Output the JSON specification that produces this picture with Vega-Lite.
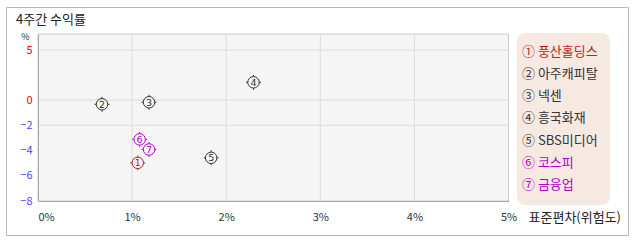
{
  "$schema": "https://vega.github.io/schema/vega-lite/v6.json",
  "width": 622,
  "height": 228,
  "autosize": "none",
  "padding": {"left": 6, "top": 7, "right": 10, "bottom": 7},
  "background": "white",
  "title": {
    "text": "4주간 수익률",
    "anchor": "start",
    "frame": "group",
    "font": "Noto Sans CJK KR",
    "fontSize": 13,
    "fontWeight": "normal",
    "color": "#222222",
    "baseline": "middle",
    "dx": 10,
    "dy": 26,
    "offset": 0
  },
  "datasets": {
    "frame": [{"x0": 0, "x1": 5, "y0": -8, "y1": 6.6}],
    "vgrid": [{"v": 1}, {"v": 2}, {"v": 3}, {"v": 4}],
    "hgrid": [{"v": 5}, {"v": 0}, {"v": -2}],
    "pts": [
      {"n": "1", "label": "① 풍산홀딩스", "sd": 1.06, "ret": -4.98},
      {"n": "2", "label": "② 아주캐피탈", "sd": 0.68, "ret": -0.34},
      {"n": "3", "label": "③ 넥센", "sd": 1.18, "ret": -0.18},
      {"n": "4", "label": "④ 흥국화재", "sd": 2.29, "ret": 1.77},
      {"n": "5", "label": "⑤ SBS미디어", "sd": 1.84, "ret": -4.58},
      {"n": "6", "label": "⑥ 코스피", "sd": 1.08, "ret": -3.12},
      {"n": "7", "label": "⑦ 금융업", "sd": 1.18, "ret": -3.92}
    ]
  },
  "layer": [
    {
      "data": {"name": "frame"},
      "mark": {"type": "rect", "fill": "#f5f5f5", "stroke": "#cccccc", "strokeWidth": 1},
      "encoding": {
        "x": {"field": "x0", "type": "quantitative", "scale": {"domain": [0, 5], "range": [32, 502.5], "nice": false, "zero": false},
          "axis": {
            "values": [0, 1, 2, 3, 4, 5],
            "labelExpr": "datum.value + '%'",
            "orient": "bottom",
            "offset": -34,
            "zindex": 1,
            "grid": false,
            "ticks": false,
            "domain": true,
            "domainColor": "#a8a8a8",
            "labelFont": "Noto Sans CJK KR",
            "labelFontSize": 11,
            "labelColor": "#333333",
            "labelPadding": 10,
            "labelAlign": {"condition": {"test": "datum.value == 0", "value": "left"}, "value": "center"},
            "labelFlush": false,
            "labelOverlap": false,
            "title": "표준편차(위험도)",
            "titleFont": "Noto Sans CJK KR",
            "titleFontSize": 13,
            "titleFontWeight": "normal",
            "titleColor": "#222222",
            "titleX": 522,
            "titleY": 16,
            "titleAlign": "left",
            "titleBaseline": "middle",
            "titleAnchor": null
          }
        },
        "x2": {"field": "x1"},
        "y": {"field": "y0", "type": "quantitative", "scale": {"domain": [-8, 0, 6.6], "range": [194, 93, 27], "nice": false, "zero": false},
          "axis": {
            "values": [5, 0, -2, -4, -6, -8],
            "orient": "left",
            "offset": -32,
            "zindex": 1,
            "grid": false,
            "ticks": false,
            "domain": true,
            "domainColor": "#a8a8a8",
            "labelFont": "Noto Sans CJK KR",
            "labelFontSize": 11,
            "labelPadding": 6,
            "labelColor": {"condition": {"test": "datum.value >= 0", "value": "#ff0000"}, "value": "#4646ff"},
            "labelOverlap": false,
            "title": "%",
            "titleFont": "Noto Sans CJK KR",
            "titleFontSize": 9,
            "titleFontWeight": "normal",
            "titleColor": "#222222",
            "titleAngle": 0,
            "titleX": -13,
            "titleY": 29.5,
            "titleAlign": "center",
            "titleBaseline": "middle",
            "titleAnchor": null
          }
        },
        "y2": {"field": "y1"}
      }
    },
    {
      "data": {"name": "vgrid"},
      "mark": {"type": "rule", "color": "#dcdcdc", "strokeWidth": 1},
      "encoding": {
        "x": {"field": "v", "type": "quantitative"},
        "y": {"datum": -8, "type": "quantitative"},
        "y2": {"datum": 6.6}
      }
    },
    {
      "data": {"name": "hgrid"},
      "mark": {"type": "rule", "color": "#dcdcdc", "strokeWidth": 1},
      "encoding": {
        "y": {"field": "v", "type": "quantitative"},
        "x": {"datum": 0, "type": "quantitative"},
        "x2": {"datum": 5}
      }
    },
    {
      "data": {"name": "pts"},
      "mark": {"type": "point", "filled": false, "strokeWidth": 1, "opacity": 1, "size": 132,
        "shape": "M1,0A1,1,0,1,1,-1,0A1,1,0,1,1,1,0M0,-1L0,-1.3M0,1L0,1.3M-1,0L-1.3,0M1,0L1.3,0"},
      "encoding": {
        "x": {"field": "sd", "type": "quantitative"},
        "y": {"field": "ret", "type": "quantitative"},
        "color": {"field": "label", "type": "nominal",
          "scale": {
            "domain": ["① 풍산홀딩스", "② 아주캐피탈", "③ 넥센", "④ 흥국화재", "⑤ SBS미디어", "⑥ 코스피", "⑦ 금융업"],
            "range": ["#b82222", "#333333", "#333333", "#333333", "#333333", "#b400c8", "#b400c8"]
          },
          "legend": {
            "orient": "none",
            "legendX": 511,
            "legendY": 26,
            "title": null,
            "fillColor": "#f6e9e2",
            "strokeColor": null,
            "cornerRadius": 8,
            "padding": 12,
            "symbolSize": 1,
            "symbolStrokeWidth": 0,
            "symbolOpacity": 0,
            "labelOffset": -20,
            "labelColor": {"expr": "scale('color', datum.value)"},
            "labelFont": "Noto Sans CJK KR",
            "labelFontSize": 13,
            "labelLimit": 200,
            "rowPadding": 8.3,
            "encode": {
              "labels": {
                "fill": {"value": {"expr": "scale('color', datum.value)"}},
                "dy": {"value": 3}
              },
              "symbols": {
                "size": {"value": 1},
                "opacity": {"value": 0},
                "x": {"value": 85}
              }
            }
          }
        }
      }
    },
    {
      "data": {"name": "pts"},
      "mark": {"type": "text", "font": "DejaVu Sans", "fontSize": 9.5, "align": "center", "baseline": "middle", "dy": 0.5},
      "encoding": {
        "x": {"field": "sd", "type": "quantitative"},
        "y": {"field": "ret", "type": "quantitative"},
        "text": {"field": "n"},
        "color": {"field": "label", "type": "nominal", "legend": null}
      }
    }
  ],
  "config": {
    "view": {"stroke": "#b8b8b8", "strokeWidth": 1, "fill": "white"}
  }
}
